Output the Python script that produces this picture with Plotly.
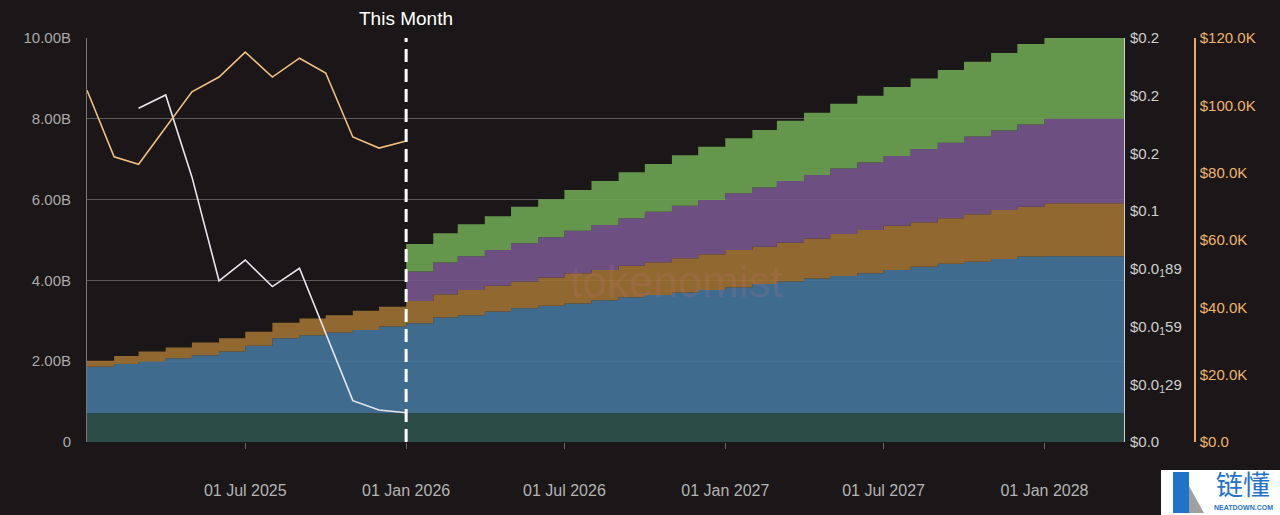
import plotly.graph_objects as go
import pandas as pd

# ---- data -------------------------------------------------------------
months = pd.date_range("2025-01-01", "2028-04-01", freq="MS")  # 40 monthly points

# cumulative tops of the stacked supply layers (billions of tokens)
teal_top = [0.71] * 40
blue_top = [1.86, 1.93, 1.99, 2.07, 2.15, 2.24, 2.38, 2.57, 2.64, 2.71, 2.77, 2.86,
            2.94, 3.08, 3.14, 3.23, 3.31, 3.37, 3.43, 3.51, 3.58, 3.64, 3.70, 3.76,
            3.83, 3.91, 3.97, 4.05, 4.11, 4.18, 4.26, 4.34, 4.41, 4.46, 4.53, 4.59,
            4.60, 4.60, 4.60, 4.60]
orange_top = [2.01, 2.13, 2.24, 2.34, 2.46, 2.57, 2.73, 2.95, 3.06, 3.14, 3.25, 3.35,
              3.49, 3.66, 3.76, 3.87, 3.97, 4.07, 4.18, 4.26, 4.36, 4.45, 4.55, 4.65,
              4.75, 4.83, 4.93, 5.04, 5.15, 5.25, 5.35, 5.44, 5.54, 5.64, 5.74, 5.82,
              5.91, 5.91, 5.91, 5.91]
# purple / green layers only start in Jan 2026
purple_top_2026on = [4.22, 4.44, 4.60, 4.75, 4.92, 5.07, 5.23, 5.37, 5.54, 5.70, 5.85, 5.99,
                     6.16, 6.30, 6.46, 6.61, 6.77, 6.92, 7.08, 7.25, 7.41, 7.56, 7.71, 7.86,
                     8.00, 8.00, 8.00, 8.00]
green_top_2026on = [4.90, 5.17, 5.39, 5.59, 5.82, 6.01, 6.24, 6.46, 6.68, 6.88, 7.10, 7.31,
                    7.52, 7.72, 7.95, 8.15, 8.37, 8.57, 8.79, 9.00, 9.21, 9.41, 9.63, 9.85,
                    10.0, 10.0, 10.0, 10.0]
purple_top = orange_top[:12] + purple_top_2026on
green_top = orange_top[:12] + green_top_2026on

# BTC price (thousand USD), Jan 2025 .. Jan 2026
btc_months = pd.date_range("2025-01-01", "2026-01-01", freq="MS")
btc_price_k = [104.5, 84.7, 82.5, 93.3, 104.0, 108.4, 115.8, 108.4, 114.0, 109.6, 90.6, 87.3, 89.4]

# token price (USD), Mar 2025 .. Jan 2026
tok_months = pd.date_range("2025-03-01", "2026-01-01", freq="MS")
token_price = [0.1735, 0.1804, 0.1378, 0.0838, 0.0946, 0.0808, 0.0903, 0.056, 0.0215, 0.0166, 0.0152]

supply_ticks = [0, 2, 4, 6, 8, 10]
supply_ticktext = ["0", "2.00B", "4.00B", "6.00B", "8.00B", "10.00B"]
price_ticks = [0, 0.03, 0.06, 0.09, 0.12, 0.15, 0.18, 0.21]
price_ticktext = ["$0.0", "$0.0<sub>1</sub>29", "$0.0<sub>1</sub>59", "$0.0<sub>1</sub>89",
                  "$0.1", "$0.2", "$0.2", "$0.2"]
btc_ticks = [0, 20, 40, 60, 80, 100, 120]
btc_ticktext = ["$0.0", "$20.0K", "$40.0K", "$60.0K", "$80.0K", "$100.0K", "$120.0K"]
x_ticks = ["2025-07-01", "2026-01-01", "2026-07-01", "2027-01-01", "2027-07-01", "2028-01-01"]
x_ticktext = ["01 Jul 2025", "01 Jan 2026", "01 Jul 2026", "01 Jan 2027", "01 Jul 2027", "01 Jan 2028"]

# ---- layout geometry ----------------------------------------------------
L, R, T, B = 87, 0, 38, 73
W = 1280 - L - R
H = 515 - T - B
def px(xp):
    return (xp - L) / W
def py(yp):
    return (515 - B - yp) / H

BG = "#1b1718"
FONT = "Liberation Sans, Arial, sans-serif"

fig = go.Figure()

layers = [
    ("Layer 1", teal_top, "rgba(47,82,78,0.9)"),
    ("Layer 2", blue_top, "rgba(68,117,155,0.9)"),
    ("Layer 3", orange_top, "rgba(158,113,50,0.9)"),
    ("Layer 4", purple_top, "rgba(120,85,141,0.9)"),
    ("Layer 5", green_top, "rgba(109,164,82,0.9)"),
]
for i, (name, vals, col) in enumerate(layers):
    fig.add_trace(go.Scatter(
        x=months, y=vals, name=name, mode="lines",
        line=dict(width=0, shape="hv", color=col),
        fill="tozeroy" if i == 0 else "tonexty", fillcolor=col,
        yaxis="y", hoverinfo="skip"))

fig.add_trace(go.Scatter(x=tok_months, y=token_price, name="Price", mode="lines",
                         line=dict(color="#e6e6ee", width=1.6), yaxis="y2"))
fig.add_trace(go.Scatter(x=btc_months, y=btc_price_k, name="BTC", mode="lines",
                         line=dict(color="#f3bf7d", width=1.6), yaxis="y3"))

x_end = px(1124)
fig.update_layout(
    width=1280, height=515,
    margin=dict(l=L, r=R, t=T, b=B),
    paper_bgcolor=BG, plot_bgcolor=BG,
    showlegend=False,
    font=dict(family=FONT, size=15, color="#aaaaaa"),
    xaxis=dict(domain=[0, x_end], type="date",
               range=["2025-01-01", "2028-04-01"],
               tickvals=x_ticks, ticktext=x_ticktext,
               showgrid=False, zeroline=False, showline=False,
               ticks="outside", ticklen=6, tickcolor="#666666",
               ticklabelstandoff=28,
               tickfont=dict(color="#b4b4b4", size=16), automargin=False),
    yaxis=dict(range=[0, 10], tickvals=supply_ticks, ticktext=supply_ticktext,
               showgrid=True, gridcolor="#5a5a5a", gridwidth=1,
               zeroline=False, showline=True, linecolor="#777777", linewidth=1,
               ticks="", ticklabelstandoff=12,
               tickfont=dict(color="#aaaaaa", size=15), automargin=False),
    yaxis2=dict(overlaying="y", side="right", anchor="x", range=[0, 0.21],
                tickvals=price_ticks, ticktext=price_ticktext,
                showgrid=False, zeroline=False, showline=True,
                linecolor="#cfcfcf", linewidth=1, ticks="", ticklabelstandoff=2,
                tickfont=dict(color="#d0d0d0", size=15), automargin=False),
    yaxis3=dict(overlaying="y", side="right", anchor="free", position=px(1195),
                range=[0, 120], tickvals=btc_ticks, ticktext=btc_ticktext,
                showgrid=False, zeroline=False, showline=True,
                linecolor="#e8aa5c", linewidth=1.5, ticks="", ticklabelstandoff=1,
                tickfont=dict(color="#f0b46a", size=15), automargin=False),
    shapes=[
        dict(type="line", xref="x", yref="paper", x0="2026-01-01", x1="2026-01-01",
             y0=0, y1=1, line=dict(color="#ffffff", width=3, dash="13px,7px"), layer="above"),
        # neatdown logo box
        dict(type="rect", xref="paper", yref="paper", x0=px(1161), x1=px(1280),
             y0=py(515), y1=py(470), fillcolor="#ffffff", line=dict(width=0), layer="above"),
        dict(type="path", xref="paper", yref="paper",
             path=f"M {px(1173)},{py(513)} L {px(1173)},{py(472)} L {px(1189)},{py(472)} "
                  f"L {px(1189)},{py(513)} Z",
             fillcolor="#1f73c8", line=dict(width=0), layer="above"),
        dict(type="path", xref="paper", yref="paper",
             path=f"M {px(1189)},{py(486)} L {px(1204)},{py(513)} L {px(1189)},{py(513)} Z",
             fillcolor="#a0a0a0", line=dict(width=0), layer="above"),
    ],
    annotations=[
        dict(text="This Month", xref="x", yref="paper", x="2026-01-01", y=py(19),
             showarrow=False, font=dict(color="#ffffff", size=19, family=FONT),
             xanchor="center", yanchor="middle"),
        dict(text="tokenomist", xref="paper", yref="paper", x=px(676), y=py(281),
             showarrow=False, font=dict(color="rgba(215,120,150,0.16)", size=44, family=FONT),
             xanchor="center", yanchor="middle"),
        dict(text="链懂", xref="paper", yref="paper", x=px(1243), y=py(483),
             showarrow=False, font=dict(color="#1f73c8", size=27, family="Noto Sans CJK SC"),
             xanchor="center", yanchor="middle"),
        dict(text="<b>NEATDOWN.COM</b>", xref="paper", yref="paper", x=px(1243), y=py(508),
             showarrow=False, font=dict(color="#1f73c8", size=7, family=FONT),
             xanchor="center", yanchor="middle"),
    ],
)

fig.write_html("out.html")
